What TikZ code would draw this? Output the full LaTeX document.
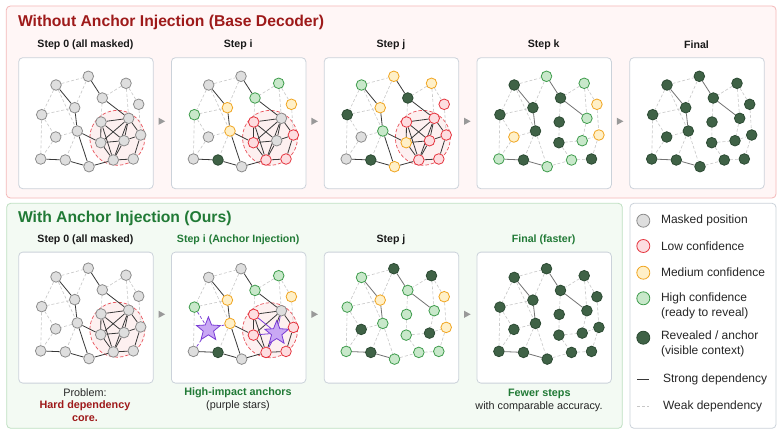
\documentclass[tikz,border=0pt]{standalone}
\usepackage{fontspec}
\setmainfont{Liberation Sans}
\usetikzlibrary{shapes.geometric}
\pgfdeclarelayer{back}\pgfdeclarelayer{mid}\pgfdeclarelayer{edges}
\pgfsetlayers{back,mid,edges,main}
\definecolor{mfill}{HTML}{DEDEDE}\definecolor{mdraw}{HTML}{8C8C8C}
\definecolor{lfill}{HTML}{FDDDE0}\definecolor{ldraw}{HTML}{E5343E}
\definecolor{dfill}{HTML}{FFF0C8}\definecolor{ddraw}{HTML}{F0A520}
\definecolor{hfill}{HTML}{C8E8CA}\definecolor{hdraw}{HTML}{3E9C4C}
\definecolor{rfill}{HTML}{3F6246}\definecolor{rdraw}{HTML}{2C4A33}
\definecolor{pfill}{HTML}{C9A8F4}\definecolor{pdraw}{HTML}{7A3CD6}
\definecolor{titlered}{HTML}{9E1A1A}
\definecolor{titlegreen}{HTML}{217A36}
\definecolor{boxred}{HTML}{F4B8B8}\definecolor{bgred}{HTML}{FFF6F6}
\definecolor{boxgreen}{HTML}{BFE0C2}\definecolor{bggreen}{HTML}{F3FAF3}
\definecolor{panelb}{HTML}{CBD2DA}
\definecolor{clusfill}{HTML}{FDF0F0}
\definecolor{arrowgray}{HTML}{999999}
\def\Xs{{37.7,70,107.7,84,56.4,23.4,120.4,82.7,110.4,59,37.4,82.4,105.7,122.4,22.4,47,70.7,95,115}}
\def\Ys{{27.7,19,26,40.7,50.4,57.4,47,64.7,61,73.7,79.7,85.4,83.4,77.7,101.7,102.7,109.4,102.7,101.7}}
\def\strongbase{1/5,5/10,2/4,4/9,15/16,16/17}
\def\weakbase{1/2,1/6,2/5,1/10,5/6,6/11,6/15,10/11,11/15,10/16,3/4,3/7,3/9,7/14,4/8}
\def\strongclus{10/12,10/17,17/18,8/9,8/12,8/13,8/18,9/12,9/13,9/14,12/13,12/18,13/14,13/18,14/19,18/19,9/18}
\def\weaklate{8/12,12/13,13/14,12/18,18/19,14/19,17/18,10/17,9/13}
\def\weakanch{1/2,1/6,2/5,1/10,5/6,6/15,10/16,3/4,3/7,3/9,7/14,4/8}
\def\weakpurple{6/11,10/11,11/15}
\def\strongclusanch{10/12,10/17,17/18,8/9,8/12,8/18,9/12,9/14,12/18,14/19,18/19,9/18}
\def\strongpurple{8/13,9/13,12/13,13/14,13/18}
\newcommand\drawtokens[4]{%
  \foreach \s [count=\i] in {#4} {
    \pgfmathsetmacro\xx{#2+\Xs[\i-1]}
    \pgfmathsetmacro\yy{#3+\Ys[\i-1]}
    \node[st\s] (#1-\i) at (\xx,\yy) {};
  }}
\newcommand\drawedges[3]{%
  \begin{pgfonlayer}{edges}
  \foreach \a/\b in #3 {\draw[#2] (#1-\a) -- (#1-\b);}
  \end{pgfonlayer}}
\newcommand\panelbox[3]{%
  \begin{pgfonlayer}{back}
  \node[panelstyle, anchor=north west] (#1) at (#2,#3) {};
  \end{pgfonlayer}}
\newcommand\cluster[3]{%
  \begin{pgfonlayer}{mid}
  \node[clus] (#1-clus) at (#2+99,#3+80.5) {};
  \end{pgfonlayer}}
\newcommand\parrow[2]{\fill[arrowgray] (#1-3,#2-3.6) -- (#1+3.6,#2) -- (#1-3,#2+3.6) -- cycle;}
\begin{document}
\begin{tikzpicture}[x=1pt,y=-1pt,
  tok/.style={circle, minimum size=10.6pt, inner sep=0pt, line width=0.8pt},
  stM/.style={tok, fill=mfill, draw=mdraw},
  stL/.style={tok, fill=lfill, draw=ldraw},
  stD/.style={tok, fill=dfill, draw=ddraw},
  stH/.style={tok, fill=hfill, draw=hdraw},
  stR/.style={tok, fill=rfill, draw=rdraw},
  stS/.style={star, star points=5, star point ratio=2.3, minimum size=25pt, inner sep=0pt, fill=pfill, draw=pdraw, line width=0.8pt},
  strongA/.style={draw=black!78, line width=0.8pt},
  strongB/.style={draw=black!55, line width=0.8pt},
  strongP/.style={draw=pdraw, line width=0.8pt},
  weak/.style={draw=black!22, dash pattern=on 3pt off 2pt, line width=0.6pt},
  weakP/.style={draw=pdraw, dash pattern=on 3pt off 2pt, line width=0.7pt},
  panelstyle/.style={draw=panelb, fill=white, rounded corners=4pt, line width=0.8pt, minimum width=134.5pt, minimum height=131pt, inner sep=0pt},
  clus/.style={circle, minimum size=55pt, inner sep=0pt, draw=ldraw!85, dash pattern=on 3.5pt off 2pt, line width=0.7pt, fill=clusfill},
  steplab/.style={font=\bfseries\fontsize{10.6}{12}\selectfont, text=black!90},
  captxt/.style={font=\fontsize{10.8}{12}\selectfont, text=black!85},
  capbold/.style={font=\bfseries\fontsize{10.8}{12}\selectfont},
  leg/.style={font=\fontsize{12}{15}\selectfont, text=black!85, anchor=west, align=left},
  legtok/.style={circle, minimum size=13pt, inner sep=0pt, line width=0.8pt}
]
\useasboundingbox (0,0) rectangle (783,436);
\begin{pgfonlayer}{back}
\fill[white] (0,0) rectangle (783,436);
\draw[draw=boxred, fill=bgred, rounded corners=4pt, line width=0.8pt] (6.3,6) rectangle (776,198);
\draw[draw=boxgreen, fill=bggreen, rounded corners=4pt, line width=0.8pt] (6.7,203.3) rectangle (622.3,428.3);
\draw[draw=panelb, fill=white, rounded corners=4pt, line width=0.8pt] (630,203.3) rectangle (776,428.3);
\end{pgfonlayer}
% titles
\node[anchor=west, inner sep=0pt, font=\bfseries\fontsize{15.7}{18}\selectfont, text=titlered] (title1) at (17.8,22) {Without Anchor Injection (Base Decoder)};
\node[anchor=west, inner sep=0pt, font=\bfseries\fontsize{15.7}{18}\selectfont, text=titlegreen] (title2) at (17.8,218.5) {With Anchor Injection (Ours)};
% top row
\node[steplab] (tl0) at (85.5,45) {Step 0 (all masked)};
\node[steplab] (tl1) at (238.2,45) {Step i};
\node[steplab] (tl2) at (391,45) {Step j};
\node[steplab] (tl3) at (543.7,45) {Step k};
\node[steplab] (tl4) at (696.5,45) {Final};
\panelbox{TA}{18.3}{57.3}
\panelbox{TB}{171}{57.3}
\panelbox{TC}{323.8}{57.3}
\panelbox{TD}{476.5}{57.3}
\panelbox{TE}{629.3}{57.3}
\parrow{161.5}{121.3}\parrow{314.3}{121.3}\parrow{467}{121.3}\parrow{619.8}{121.3}
% step 0
\cluster{ta}{18.3}{57.3}
\drawtokens{ta}{18.3}{57.3}{M,M,M,M,M,M,M,M,M,M,M,M,M,M,M,M,M,M,M}
\drawedges{ta}{weak}{\weakbase}
\drawedges{ta}{strongA}{\strongbase}
\drawedges{ta}{strongA}{\strongclus}
% step i
\cluster{tb}{171}{57.3}
\drawtokens{tb}{171}{57.3}{M,M,H,H,D,H,D,L,M,D,M,L,M,L,M,R,M,L,L}
\drawedges{tb}{weak}{\weakbase}
\drawedges{tb}{strongA}{\strongbase}
\drawedges{tb}{strongA}{\strongclus}
% step j
\cluster{tc}{323.8}{57.3}
\drawtokens{tc}{323.8}{57.3}{H,D,D,R,D,R,L,L,L,H,M,D,L,L,M,R,D,L,L}
\drawedges{tc}{weak}{\weakbase}
\drawedges{tc}{strongA}{\strongbase}
\drawedges{tc}{strongA}{\strongclus}
% step k
\drawtokens{td}{476.5}{57.3}{R,H,H,R,R,R,D,R,H,R,D,R,H,D,H,R,H,H,R}
\drawedges{td}{weak}{\weakbase}
\drawedges{td}{weak}{\weaklate}
\drawedges{td}{strongB}{\strongbase}
% final
\drawtokens{te}{629.3}{57.3}{R,R,R,R,R,R,R,R,R,R,R,R,R,R,R,R,R,R,R}
\drawedges{te}{weak}{\weakbase}
\drawedges{te}{weak}{\weaklate}
\drawedges{te}{strongB}{\strongbase}
% bottom row
\node[steplab] (bl0) at (85.5,239.3) {Step 0 (all masked)};
\node[steplab, text=titlegreen] (bl1) at (238.2,239.3) {Step i (Anchor Injection)};
\node[steplab] (bl2) at (391,239.3) {Step j};
\node[steplab, text=titlegreen] (bl3) at (543.7,239.3) {Final (faster)};
\panelbox{BA}{18.3}{251.7}
\panelbox{BB}{171}{251.7}
\panelbox{BC}{323.8}{251.7}
\panelbox{BD}{476.5}{251.7}
\parrow{161.5}{314.3}\parrow{314.3}{314.3}\parrow{467}{314.3}
\cluster{ba}{18.3}{249.2}
\drawtokens{ba}{18.3}{249.2}{M,M,M,M,M,M,M,M,M,M,M,M,M,M,M,M,M,M,M}
\drawedges{ba}{weak}{\weakbase}
\drawedges{ba}{strongA}{\strongbase}
\drawedges{ba}{strongA}{\strongclus}
\cluster{bb}{171}{249.7}
\drawtokens{bb}{171}{249.7}{M,M,H,H,D,H,D,L,M,D,S,L,S,L,M,R,M,L,L}
\drawedges{bb}{weak}{\weakanch}
\drawedges{bb}{weakP}{\weakpurple}
\drawedges{bb}{strongA}{\strongbase}
\drawedges{bb}{strongA}{\strongclusanch}
\drawedges{bb}{strongP}{\strongpurple}
\drawtokens{bc}{323.8}{249.7}{H,R,R,H,D,H,D,H,H,H,R,H,R,D,H,R,H,H,H}
\drawedges{bc}{weak}{\weakbase}
\drawedges{bc}{weak}{\weaklate}
\drawedges{bc}{strongB}{\strongbase}
\drawtokens{bd}{476.5}{249.7}{R,R,R,R,R,R,R,R,R,R,R,R,R,R,R,R,R,R,R}
\drawedges{bd}{weak}{\weakbase}
\drawedges{bd}{weak}{\weaklate}
\drawedges{bd}{strongB}{\strongbase}
% captions
\node[captxt] (c1a) at (85,392.3) {Problem:};
\node[captxt, capbold, text=titlered] (c1b) at (85,405.8) {Hard dependency};
\node[captxt, capbold, text=titlered] (c1c) at (85,419) {core.};
\node[captxt, capbold, text=titlegreen] (c2a) at (238,392.3) {High-impact anchors};
\node[captxt] (c2b) at (238,406) {(purple stars)};
\node[captxt, capbold, text=titlegreen] (c3a) at (539.3,394.3) {Fewer steps};
\node[captxt] (c3b) at (539,406.7) {with comparable accuracy.};
% legend
\node[legtok, fill=mfill, draw=mdraw] (lg1) at (643.3,220.7) {};
\node[leg] (lt1) at (657.5,220.7) {Masked position};
\node[legtok, fill=lfill, draw=ldraw] (lg2) at (643.3,246) {};
\node[leg] (lt2) at (657.5,246) {Low confidence};
\node[legtok, fill=dfill, draw=ddraw] (lg3) at (643.3,272.7) {};
\node[leg] (lt3) at (657.5,272.7) {Medium confidence};
\node[legtok, fill=hfill, draw=hdraw] (lg4) at (643.3,298.3) {};
\node[leg] (lt4) at (657.5,305.8) {High confidence\\(ready to reveal)};
\node[legtok, fill=rfill, draw=rdraw] (lg5) at (643.3,337.7) {};
\node[leg] (lt5) at (657.5,344.2) {Revealed / anchor\\(visible context)};
\coordinate (ls1) at (637.3,379.3); \coordinate (ls2) at (649.3,379.3);
\draw[strongA] (ls1) -- (ls2);
\node[leg] (lt6) at (659.5,379.3) {Strong dependency};
\coordinate (lw1) at (637.3,406); \coordinate (lw2) at (649.3,406);
\draw[weak] (lw1) -- (lw2);
\node[leg] (lt7) at (659.5,406) {Weak dependency};
\end{tikzpicture}
\end{document}
